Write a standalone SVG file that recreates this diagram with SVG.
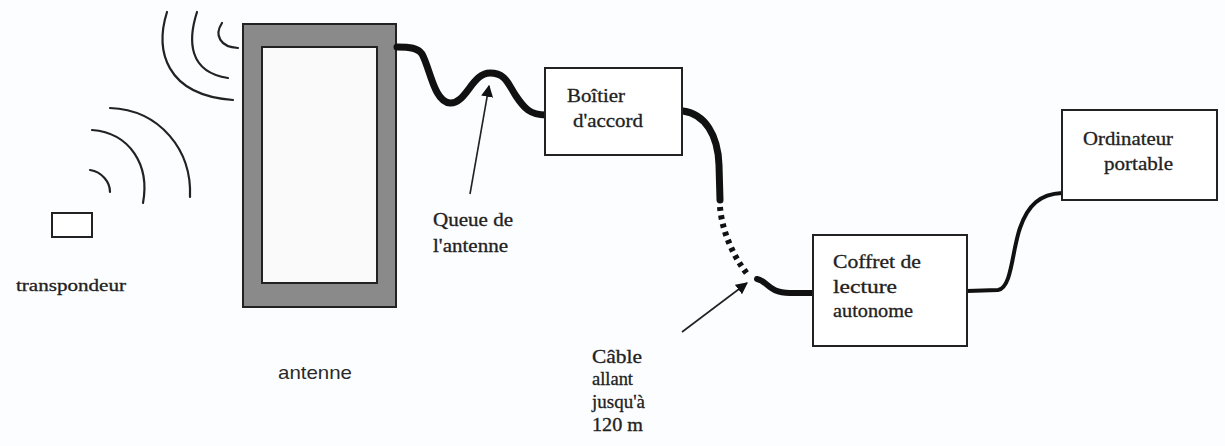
<svg xmlns="http://www.w3.org/2000/svg" width="1225" height="446" viewBox="0 0 1225 446">
<style>
.wave{fill:none;stroke:#222;stroke-width:2.2;stroke-linecap:round}
.cable{fill:none;stroke:#111;stroke-linecap:round;stroke-linejoin:round}
.ptr{stroke:#222;stroke-width:1.6;fill:none}
</style>
<defs>
<marker id="ah" viewBox="0 0 10 10" refX="9" refY="5" markerWidth="12" markerHeight="12" orient="auto" markerUnits="userSpaceOnUse">
<path d="M0,0 L10,5 L0,10 z" fill="#111"/>
</marker>
</defs>
<rect width="1225" height="446" fill="#fcfdfe"/>

<g id="waves">
<path class="wave" d="M222,23 C214,35 220,47 238,48"/>
<path class="wave" d="M197,12 C188,40 188,72 228,78"/>
<path class="wave" d="M167,12 C155,50 165,95 233,100"/>
<path class="wave" d="M90,170 C102,172 110,182 110,192"/>
<path class="wave" d="M92,130 C130,133 150,165 143,203"/>
<path class="wave" d="M110,108 C160,110 192,150 190,197"/>
</g>

<g id="transpondeur" font-family="Liberation Serif, serif" font-size="17" fill="#222" stroke="#222" stroke-width="0.3">
<rect x="52" y="213" width="40" height="24" fill="#fff" stroke="#222" stroke-width="2"/>
<text x="16" y="291" textLength="110" lengthAdjust="spacingAndGlyphs">transpondeur</text>
</g>

<g id="antenne">
<rect x="243" y="24" width="153" height="283" fill="#8a8a8a" stroke="#222" stroke-width="2"/>
<rect x="262" y="47" width="115" height="236" fill="#fafafa" stroke="#222" stroke-width="2"/>
<text x="278" y="379" font-family="Liberation Sans, Arial, sans-serif" font-size="19" fill="#2a2a2a" textLength="74" lengthAdjust="spacingAndGlyphs">antenne</text>
</g>

<g id="connectors">
<path class="cable" stroke-width="7" d="M397,47 C410,47 418,48 422,54 C430,68 434,102 450,103 C466,104 472,73 490,73 C506,73 508,84 516,96 C524,108 530,115 546,115"/>
<path class="cable" stroke-width="7" d="M683,111 C705,114 718,135 719,165 L720,200"/>
<path class="cable" stroke-width="6" style="stroke-linecap:butt" stroke-dasharray="4,4.5" d="M720,207 C722,230 732,255 748,275"/>
<path class="cable" stroke-width="6" d="M757,279 C768,281 768,293 790,293 L813,293"/>
<path class="cable" stroke-width="4" d="M967,291 L998,290 C1012,288 1012,250 1020,228 C1028,205 1040,194 1062,193"/>
<line class="ptr" x1="470" y1="194" x2="489" y2="86" marker-end="url(#ah)"/>
<line class="ptr" x1="682" y1="332" x2="747" y2="283" marker-end="url(#ah)"/>
</g>

<g id="boitier" font-family="Liberation Serif, serif" font-size="18" fill="#222" stroke="#222" stroke-width="0.3">
<rect x="545" y="68" width="137" height="87" fill="#fff" stroke="#222" stroke-width="2"/>
<text x="567" y="102" textLength="58" lengthAdjust="spacingAndGlyphs">Boîtier</text>
<text x="573" y="127" textLength="70" lengthAdjust="spacingAndGlyphs">d'accord</text>
</g>

<g id="queue-label" font-family="Liberation Serif, serif" font-size="18" fill="#222" stroke="#222" stroke-width="0.3">
<text x="433" y="226" textLength="80" lengthAdjust="spacingAndGlyphs">Queue de</text>
<text x="433" y="252" textLength="75" lengthAdjust="spacingAndGlyphs">l'antenne</text>
</g>

<g id="coffret" font-family="Liberation Serif, serif" font-size="18" fill="#222" stroke="#222" stroke-width="0.3">
<rect x="813" y="235" width="154" height="111" fill="#fff" stroke="#222" stroke-width="2"/>
<text x="833" y="268" textLength="88" lengthAdjust="spacingAndGlyphs">Coffret de</text>
<text x="833" y="293" textLength="64" lengthAdjust="spacingAndGlyphs">lecture</text>
<text x="833" y="317" textLength="80" lengthAdjust="spacingAndGlyphs">autonome</text>
</g>

<g id="cable-label" font-family="Liberation Serif, serif" font-size="18" fill="#222" stroke="#222" stroke-width="0.3">
<text x="592" y="363" textLength="50" lengthAdjust="spacingAndGlyphs">Câble</text>
<text x="592" y="385" textLength="41" lengthAdjust="spacingAndGlyphs">allant</text>
<text x="592" y="408" textLength="53" lengthAdjust="spacingAndGlyphs">jusqu'à</text>
<text x="592" y="431" textLength="51" lengthAdjust="spacingAndGlyphs">120  m</text>
</g>

<g id="ordinateur" font-family="Liberation Serif, serif" font-size="18" fill="#222" stroke="#222" stroke-width="0.3">
<rect x="1062" y="110" width="155" height="90" fill="#fff" stroke="#222" stroke-width="2"/>
<text x="1083" y="145" textLength="90" lengthAdjust="spacingAndGlyphs">Ordinateur</text>
<text x="1104" y="170" textLength="69" lengthAdjust="spacingAndGlyphs">portable</text>
</g>
</svg>
